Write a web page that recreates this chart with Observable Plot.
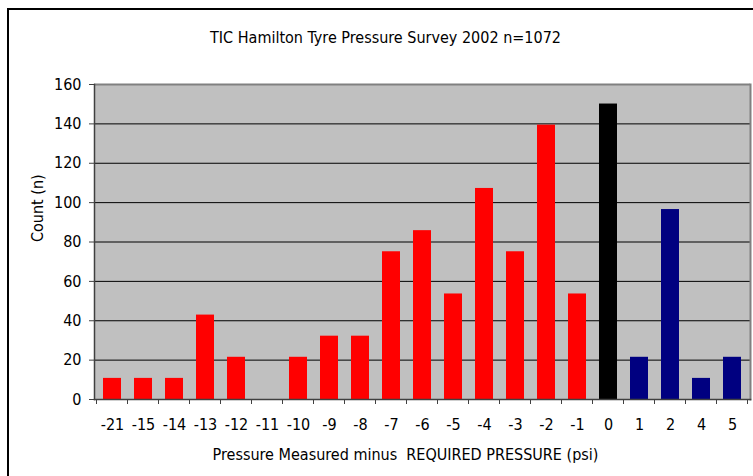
<!DOCTYPE html>
<html>
<head>
<meta charset="utf-8">
<script src="https://cdn.jsdelivr.net/npm/d3@7"></script>
<script src="https://cdn.jsdelivr.net/npm/@observablehq/plot@0.6"></script>
<style>
  html, body { margin: 0; padding: 0; background: #fff; }
  #wrap { position: relative; width: 753px; height: 476px; overflow: hidden; }
  #border { position: absolute; left: 7px; top: 8px; width: 800px; height: 600px; border: 2px solid #000; box-sizing: border-box; pointer-events: none; }
  svg { position: absolute; left: 0; top: 0; }
</style>
</head>
<body>
<div id="wrap"><div id="border"></div></div>
<script>
const categories = ["-21","-15","-14","-13","-12","-11","-10","-9","-8","-7","-6","-5","-4","-3","-2","-1","0","1","2","4","5"];
const counts = [10.72,10.72,10.72,42.88,21.44,0,21.44,32.16,32.16,75.04,85.76,53.6,107.2,75.04,139.36,53.6,150.08,21.44,96.48,10.72,21.44];
const groups = ["under","under","under","under","under","under","under","under","under","under","under","under","under","under","under","under","exact","over","over","over","over"];
const yTicks = [0,20,40,60,80,100,120,140,160];
const titleText = "TIC Hamilton Tyre Pressure Survey 2002 n=1072";
const xLabel = "Pressure Measured minus  REQUIRED PRESSURE (psi)";
const yLabel = "Count (n)";

const data = categories.map((c, i) => ({cat: c, n: counts[i], g: groups[i]}));
const FONT = "'DejaVu Sans Condensed', 'DejaVu Sans', sans-serif";
const FS = 16;

const chart = Plot.plot({
  width: 753,
  height: 476,
  marginLeft: 94,
  marginRight: 3,
  marginTop: 84,
  marginBottom: 77,
  style: {fontFamily: FONT, fontSize: FS + "px", color: "#000", background: "transparent"},
  x: {type: "band", domain: categories, paddingInner: 0.434, paddingOuter: 0.235, axis: null},
  y: {domain: [0, 160], axis: null},
  color: {domain: ["under","exact","over"], range: ["#ff0000","#000000","#000080"]},
  marks: [
    Plot.frame({fill: "#c0c0c0", stroke: null}),
    Plot.ruleY(yTicks.slice(1, -1), {stroke: "#000", strokeWidth: 1}),
    Plot.barY(data, {x: "cat", y: "n", fill: "g"}),
    // top and right frame edges
    Plot.ruleY([160], {stroke: "#808080", strokeWidth: 2}),
    Plot.frame({anchor: "right", stroke: "#808080", strokeWidth: 2}),
    // y axis
    Plot.axisY(yTicks, {tickSize: 5, tickPadding: 8, fontSize: FS, label: null, stroke: "#404040"}),
    Plot.frame({anchor: "left", stroke: "#404040", strokeWidth: 1.5}),
    Plot.frame({anchor: "bottom", stroke: "#404040", strokeWidth: 1.5}),
    // x axis labels centered on bars
    Plot.axisX({tickSize: 0, tickPadding: 19, fontSize: FS, label: null}),
    Plot.text([yLabel], {frameAnchor: "left", dx: -57, rotate: -90, fontSize: FS, text: d => d}),
    Plot.text([xLabel], {frameAnchor: "bottom", dy: 60, dx: -17, fontSize: FS, text: d => d}),
    Plot.text([titleText], {frameAnchor: "top", dy: -53, dx: -37, fontSize: FS, text: d => d})
  ]
});

// tick marks at category boundaries (Excel style)
const xs = chart.scale("x");
const bw = xs.bandwidth;
const step = xs.step;
document.getElementById("wrap").appendChild(chart);
const svg = d3.select(chart);
const bounds = categories.map(c => xs.apply(c) - (step - bw) / 2);
bounds.push(xs.apply(categories[categories.length - 1]) + bw + (step - bw) / 2);
svg.append("g").selectAll("line").data(bounds).join("line")
  .attr("x1", d => d).attr("x2", d => d)
  .attr("y1", 399).attr("y2", 404)
  .attr("stroke", "#404040").attr("stroke-width", 1);
</script>
</body>
</html>
